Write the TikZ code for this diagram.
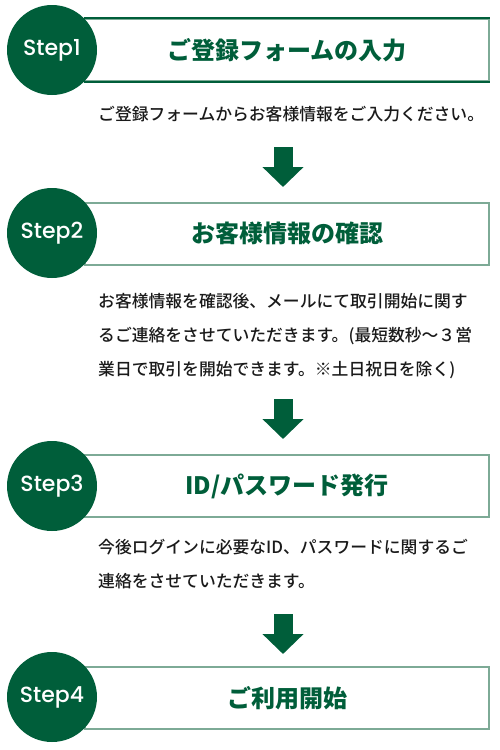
\documentclass[tikz,border=0pt]{standalone}
\usepackage{fontspec}
\setmainfont{Noto Sans CJK JP}
\newfontfamily\descfont{Noto Sans CJK JP}[UprightFont={* Medium}]
\newfontfamily\stepfont{Poppins}[UprightFont={* Medium}]
\usetikzlibrary{arrows.meta,positioning}
\definecolor{stepgreen}{RGB}{0,94,58}
\definecolor{boxline}{RGB}{125,170,150}
\definecolor{bodytext}{RGB}{26,26,26}
\tikzset{
  stepcircle/.style={circle,fill=stepgreen,minimum size=90pt,inner sep=0pt,text=white,font=\stepfont\fontsize{22}{22}\selectfont},
  titlebox/.style={draw=boxline,line width=2pt,rectangle,minimum width=404pt,minimum height=62pt,inner sep=0pt,text=stepgreen,font=\bfseries\fontsize{24}{24}\selectfont},
  desc/.style={anchor=north west,inner sep=0pt,align=left,text=bodytext,font=\descfont\fontsize{16.8}{34}\selectfont},
  downarrow/.style={stepgreen,line width=19pt,-{Triangle[length=20pt,width=40pt]}}
}
\begin{document}
\begin{tikzpicture}[x=1pt,y=-1pt]
  \useasboundingbox (0,0) rectangle (500,750);
  % boxes first, circles on top
  \node[titlebox] (b1) at (287,50) {ご登録フォームの入力};
  \node[titlebox] (b2) at (287,233.5) {お客様情報の確認};
  \node[titlebox] (b3) at (287,486) {ID/パスワード発行};
  \node[titlebox] (b4) at (287,698) {ご利用開始};
  \draw[stepgreen,line width=1.2pt] (b1.north west) -- (b1.north east) (b1.south west) -- (b1.south east);
  \node[stepcircle] (s1) at (52,50) {Step1};
  \node[stepcircle] (s2) at (52,233) {Step2};
  \node[stepcircle] (s3) at (52,486) {Step3};
  \node[stepcircle] (s4) at (52,697) {Step4};
  % descriptions
  \node[desc] (d1) at (98,106) {ご登録フォームからお客様情報をご入力ください。};
  \node[desc] (d2) at (98,293) {お客様情報を確認後、メールにて取引開始に関す\\るご連絡をさせていただきます。(最短数秒～３営\\業日で取引を開始できます。※土日祝日を除く)};
  \node[desc] (d3) at (98,539) {今後ログインに必要なID、パスワードに関するご\\連絡をさせていただきます。};
  % arrows
  \coordinate (a1s) at (283,147);
  \coordinate (a1e) at (283,187);
  \coordinate (a2s) at (283,399);
  \coordinate (a2e) at (283,439);
  \coordinate (a3s) at (283,614);
  \coordinate (a3e) at (283,654);
  \draw[downarrow] (a1s) -- (a1e);
  \draw[downarrow] (a2s) -- (a2e);
  \draw[downarrow] (a3s) -- (a3e);
\end{tikzpicture}
\end{document}
